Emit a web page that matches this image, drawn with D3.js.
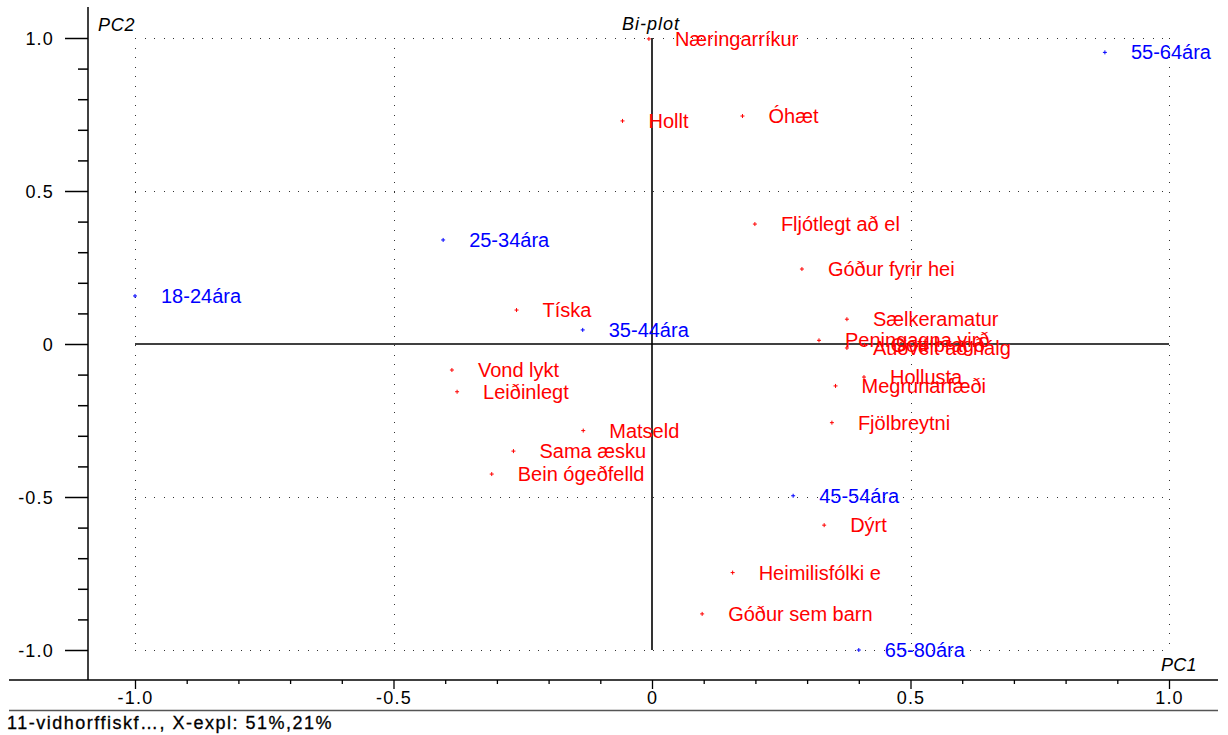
<!DOCTYPE html>
<html>
<head>
<meta charset="utf-8">
<script src="https://cdn.jsdelivr.net/npm/d3@7"></script>
<style>
  html, body { margin: 0; padding: 0; background: #fff; }
  svg { display: block; font-family: "Liberation Sans", Arial, sans-serif; }
</style>
</head>
<body>
<svg id="chart" width="1228" height="735"></svg>
<script>
// ---- data ----
const groupNames = ["18-24ára", "25-34ára", "35-44ára", "45-54ára", "55-64ára", "65-80ára"];
const groupPC1   = [-1.000, -0.404, -0.134, 0.273, 0.876, 0.400];
const groupPC2   = [ 0.157,  0.340,  0.046, -0.496, 0.953, -1.000];

const attrNames = ["Næringarríkur", "Hollt", "Óhæt", "Fljótlegt að el", "Góður fyrir hei", "Tíska",
  "Sælkeramatur", "Peningagna virð", "Auðvelt að nálg", "Gott bragð", "Hollusta", "Megrunarfæði",
  "Fjölbreytni", "Vond lykt", "Leiðinlegt", "Matseld", "Sama æsku", "Bein ógeðfelld", "Dýrt",
  "Heimilisfólki e", "Góður sem barn"];
const attrPC1 = [-0.006, -0.057, 0.175, 0.199, 0.290, -0.262,
  0.377, 0.323, 0.377, 0.411, 0.410, 0.355,
  0.348, -0.387, -0.377, -0.133, -0.268, -0.310, 0.333,
  0.156, 0.097];
const attrPC2 = [0.997, 0.729, 0.745, 0.392, 0.245, 0.111,
  0.081, 0.012, -0.013, -0.003, -0.108, -0.137,
  -0.257, -0.085, -0.156, -0.283, -0.350, -0.425, -0.592,
  -0.747, -0.882];

const majorTicks = [-1.0, -0.5, 0, 0.5, 1.0];
const majorTickLabels = ["-1.0", "-0.5", "0", "0.5", "1.0"];
const minorTicks = [-0.9, -0.8, -0.7, -0.6, -0.4, -0.3, -0.2, -0.1, 0.1, 0.2, 0.3, 0.4, 0.6, 0.7, 0.8, 0.9];
const gridValues = [-1.0, -0.5, 0.5, 1.0];

const titleText = "Bi-plot";
const xAxisName = "PC1";
const yAxisName = "PC2";
const footerText = "11-vidhorffiskf\u2026, X-expl: 51%,21%";

// ---- layout ----
const svg = d3.select("#chart");
const x = d3.scaleLinear().domain([-1, 1]).range([135, 1169]);
const y = d3.scaleLinear().domain([-1, 1]).range([650, 38]);
const axisX = 88;   // position of vertical axis
const axisY = 680;  // position of horizontal axis

const labelFmt = v => majorTickLabels[majorTicks.indexOf(v)];

// grid (dotted), only within [-1,1]
const grid = svg.append("g").attr("stroke", "#333").attr("stroke-width", 1)
  .attr("stroke-dasharray", "1 8.6").attr("shape-rendering", "crispEdges");
gridValues.forEach(v => {
  grid.append("line").attr("x1", x(-1)).attr("x2", x(1)).attr("y1", Math.round(y(v)) + 0.5).attr("y2", Math.round(y(v)) + 0.5);
  grid.append("line").attr("y1", y(1)).attr("y2", y(-1)).attr("x1", Math.round(x(v)) + 0.5).attr("x2", Math.round(x(v)) + 0.5);
});

// zero lines (solid)
svg.append("line").attr("x1", x(-1)).attr("x2", x(1)).attr("y1", y(0)).attr("y2", y(0))
  .attr("stroke", "#000").attr("stroke-width", 1.6);
svg.append("line").attr("x1", x(0)).attr("x2", x(0)).attr("y1", y(1)).attr("y2", y(-1))
  .attr("stroke", "#000").attr("stroke-width", 1.6);

const tickFont = g => g.selectAll("text").attr("font-size", 18).attr("letter-spacing", 1.2).attr("fill", "#000")
  .attr("font-family", "'Liberation Sans', Arial, sans-serif");

// left axis
const gLeftMinor = svg.append("g").attr("transform", `translate(${axisX},0)`)
  .call(d3.axisLeft(y).tickValues(minorTicks).tickSize(10).tickFormat(""));
const gLeft = svg.append("g").attr("transform", `translate(${axisX},0)`)
  .call(d3.axisLeft(y).tickValues(majorTicks).tickSize(23).tickPadding(11).tickFormat(labelFmt));
[gLeftMinor, gLeft].forEach(g => { g.select(".domain").remove(); g.selectAll("line").attr("stroke-width", 1.5); });
tickFont(gLeft);
gLeft.selectAll("text").attr("dy", "0.36em");
svg.append("line").attr("x1", axisX).attr("x2", axisX).attr("y1", 7).attr("y2", axisY)
  .attr("stroke", "#000").attr("stroke-width", 1.5);

// bottom axis
const gBotMinor = svg.append("g").attr("transform", `translate(0,${axisY})`)
  .call(d3.axisBottom(x).tickValues(minorTicks).tickSize(4).tickFormat(""));
const gBot = svg.append("g").attr("transform", `translate(0,${axisY})`)
  .call(d3.axisBottom(x).tickValues(majorTicks).tickSize(9).tickFormat(labelFmt));
[gBotMinor, gBot].forEach(g => { g.select(".domain").remove(); g.selectAll("line").attr("stroke-width", 1.3); });
tickFont(gBot);
gBot.selectAll("text").attr("y", 24).attr("dy", 0);
svg.append("line").attr("x1", 9).attr("x2", 1218).attr("y1", axisY).attr("y2", axisY)
  .attr("stroke", "#000").attr("stroke-width", 1.5);

// footer separator and footer
svg.append("line").attr("x1", 9).attr("x2", 1218).attr("y1", 710.5).attr("y2", 710.5)
  .attr("stroke", "#555").attr("stroke-width", 1.5);
svg.append("text").attr("x", 7).attr("y", 729).attr("font-size", 18).attr("letter-spacing", 1.5)
  .attr("fill", "#000").attr("stroke", "#000").attr("stroke-width", 0.3).text(footerText);

// titles
svg.append("text").attr("x", 98).attr("y", 31).attr("font-size", 18).attr("font-style", "italic")
  .attr("letter-spacing", 0.8).attr("fill", "#000").text(yAxisName);
svg.append("text").attr("x", 1161).attr("y", 671).attr("font-size", 18).attr("font-style", "italic")
  .attr("letter-spacing", 0.3).attr("fill", "#000").text(xAxisName);
svg.append("text").attr("x", 622).attr("y", 30).attr("font-size", 18).attr("font-style", "italic")
  .attr("letter-spacing", 1).attr("fill", "#000").text(titleText);

// points
const cross = (px, py) => `M${px - 2},${py}H${px + 2}M${px},${py - 2}V${py + 2}`;
function drawSet(names, xs, ys, color) {
  const data = names.map((n, i) => ({ n, px: x(xs[i]), py: y(ys[i]) }));
  const g = svg.append("g");
  g.selectAll("path").data(data).join("path")
    .attr("d", d => cross(d.px, d.py)).attr("stroke", color).attr("stroke-width", 1).attr("fill", "none");
  g.selectAll("text").data(data).join("text")
    .attr("x", d => d.px + 26).attr("y", d => d.py + 7)
    .attr("font-size", 20).attr("fill", color).text(d => d.n);
}
drawSet(attrNames, attrPC1, attrPC2, "#ff0000");
drawSet(groupNames, groupPC1, groupPC2, "#0000ff");
</script>
</body>
</html>
